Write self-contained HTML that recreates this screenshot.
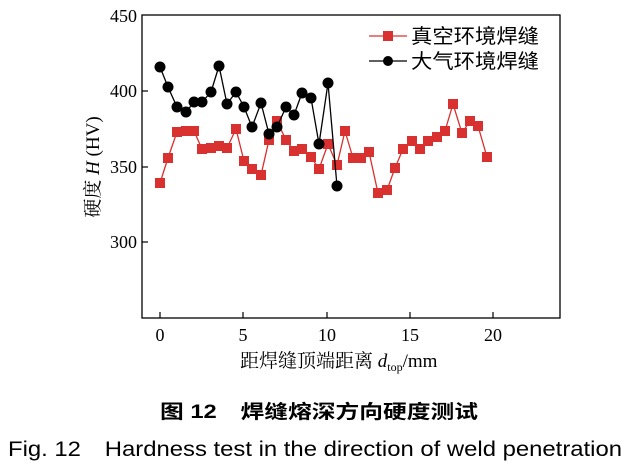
<!DOCTYPE html><html><head><style>body{margin:0;background:#fff}</style></head><body>
<svg width="630" height="469" xmlns="http://www.w3.org/2000/svg" font-family="Liberation Serif, Noto Serif CJK SC, serif">
<rect x="142" y="15" width="418" height="303" fill="none" stroke="#000" stroke-width="1.3"/>
<g stroke="#000" stroke-width="1.2">
<line x1="142" y1="91" x2="148" y2="91"/><line x1="142" y1="167" x2="148" y2="167"/><line x1="142" y1="242" x2="148" y2="242"/>
<line x1="160" y1="318" x2="160" y2="312"/><line x1="243" y1="318" x2="243" y2="312"/><line x1="327" y1="318" x2="327" y2="312"/><line x1="410" y1="318" x2="410" y2="312"/><line x1="493" y1="318" x2="493" y2="312"/>
</g>
<g font-size="18" text-anchor="end"><text x="137" y="22">450</text><text x="137" y="97">400</text><text x="137" y="173">350</text><text x="137" y="248">300</text></g>
<g font-size="18" text-anchor="middle"><text x="160" y="341">0</text><text x="243" y="341">5</text><text x="327" y="341">10</text><text x="410" y="341">15</text><text x="493" y="341">20</text></g>
<text x="240" y="367" font-size="19">距焊缝顶端距离 <tspan font-style="italic">d</tspan><tspan font-size="12" dy="4">top</tspan><tspan dy="-4">/mm</tspan></text>
<text transform="translate(99,167) rotate(-90)" font-size="19" text-anchor="middle">硬度 <tspan font-style="italic">H</tspan> (HV)</text>
<polyline fill="none" stroke="#d93030" stroke-width="1.3" points="160,183 168,158 177,132 186,131 194,131 202,149 211,148 219,146 227,148 236,129 244,161 252,169 261,175 269,140 277,121 286,140 294,151 302,149 311,157 319,169 328,144 337,165 345,131 353,158 361,158 369,152 378,193 387,190 395,168 403,149 412,141 420,149 428,141 437,137 445,131 453,104 462,133 470,121 478,126 487,157"/>
<g fill="#d93030">
<rect x="155" y="178" width="10" height="10"/><rect x="163" y="153" width="10" height="10"/><rect x="172" y="127" width="10" height="10"/><rect x="181" y="126" width="10" height="10"/><rect x="189" y="126" width="10" height="10"/><rect x="197" y="144" width="10" height="10"/><rect x="206" y="143" width="10" height="10"/><rect x="214" y="141" width="10" height="10"/><rect x="222" y="143" width="10" height="10"/><rect x="231" y="124" width="10" height="10"/><rect x="239" y="156" width="10" height="10"/><rect x="247" y="164" width="10" height="10"/><rect x="256" y="170" width="10" height="10"/><rect x="264" y="135" width="10" height="10"/><rect x="272" y="116" width="10" height="10"/><rect x="281" y="135" width="10" height="10"/><rect x="289" y="146" width="10" height="10"/><rect x="297" y="144" width="10" height="10"/><rect x="306" y="152" width="10" height="10"/><rect x="314" y="164" width="10" height="10"/><rect x="323" y="139" width="10" height="10"/><rect x="332" y="160" width="10" height="10"/><rect x="340" y="126" width="10" height="10"/><rect x="348" y="153" width="10" height="10"/><rect x="356" y="153" width="10" height="10"/><rect x="364" y="147" width="10" height="10"/><rect x="373" y="188" width="10" height="10"/><rect x="382" y="185" width="10" height="10"/><rect x="390" y="163" width="10" height="10"/><rect x="398" y="144" width="10" height="10"/><rect x="407" y="136" width="10" height="10"/><rect x="415" y="144" width="10" height="10"/><rect x="423" y="136" width="10" height="10"/><rect x="432" y="132" width="10" height="10"/><rect x="440" y="126" width="10" height="10"/><rect x="448" y="99" width="10" height="10"/><rect x="457" y="128" width="10" height="10"/><rect x="465" y="116" width="10" height="10"/><rect x="473" y="121" width="10" height="10"/><rect x="482" y="152" width="10" height="10"/>
</g>
<polyline fill="none" stroke="#000" stroke-width="1.3" points="160,67 168,87 177,107 186,112 194,102 202,102 211,92 219,66 227,104 236,92 244,107 252,127 261,103 269,134 277,127 286,107 294,115 302,93 311,98 319,144 328,83 337,186"/>
<g fill="#000">
<circle cx="160" cy="67" r="5.5"/><circle cx="168" cy="87" r="5.5"/><circle cx="177" cy="107" r="5.5"/><circle cx="186" cy="112" r="5.5"/><circle cx="194" cy="102" r="5.5"/><circle cx="202" cy="102" r="5.5"/><circle cx="211" cy="92" r="5.5"/><circle cx="219" cy="66" r="5.5"/><circle cx="227" cy="104" r="5.5"/><circle cx="236" cy="92" r="5.5"/><circle cx="244" cy="107" r="5.5"/><circle cx="252" cy="127" r="5.5"/><circle cx="261" cy="103" r="5.5"/><circle cx="269" cy="134" r="5.5"/><circle cx="277" cy="127" r="5.5"/><circle cx="286" cy="107" r="5.5"/><circle cx="294" cy="115" r="5.5"/><circle cx="302" cy="93" r="5.5"/><circle cx="311" cy="98" r="5.5"/><circle cx="319" cy="144" r="5.5"/><circle cx="328" cy="83" r="5.5"/><circle cx="337" cy="186" r="5.5"/>
</g>
<line x1="369" y1="36" x2="407" y2="36" stroke="#d93030" stroke-width="1.3"/><rect x="383" y="31" width="10" height="10" fill="#d93030"/>
<line x1="369" y1="61" x2="407" y2="61" stroke="#000" stroke-width="1.3"/><circle cx="388" cy="61" r="5"/>
<g font-family="Liberation Sans, Noto Sans CJK SC, sans-serif" font-size="20"><text x="411" y="43" textLength="128" lengthAdjust="spacingAndGlyphs">真空环境焊缝</text><text x="411" y="68" textLength="128" lengthAdjust="spacingAndGlyphs">大气环境焊缝</text></g>
<text x="160" y="418" font-family="Liberation Sans, Noto Sans CJK SC, sans-serif" font-size="19" font-weight="bold" textLength="318" lengthAdjust="spacingAndGlyphs">图 12　焊缝熔深方向硬度测试</text>
<text x="8" y="456" font-family="Liberation Sans, sans-serif" font-size="21" textLength="614" lengthAdjust="spacingAndGlyphs">Fig. 12　Hardness test in the direction of weld penetration</text>
</svg></body></html>
